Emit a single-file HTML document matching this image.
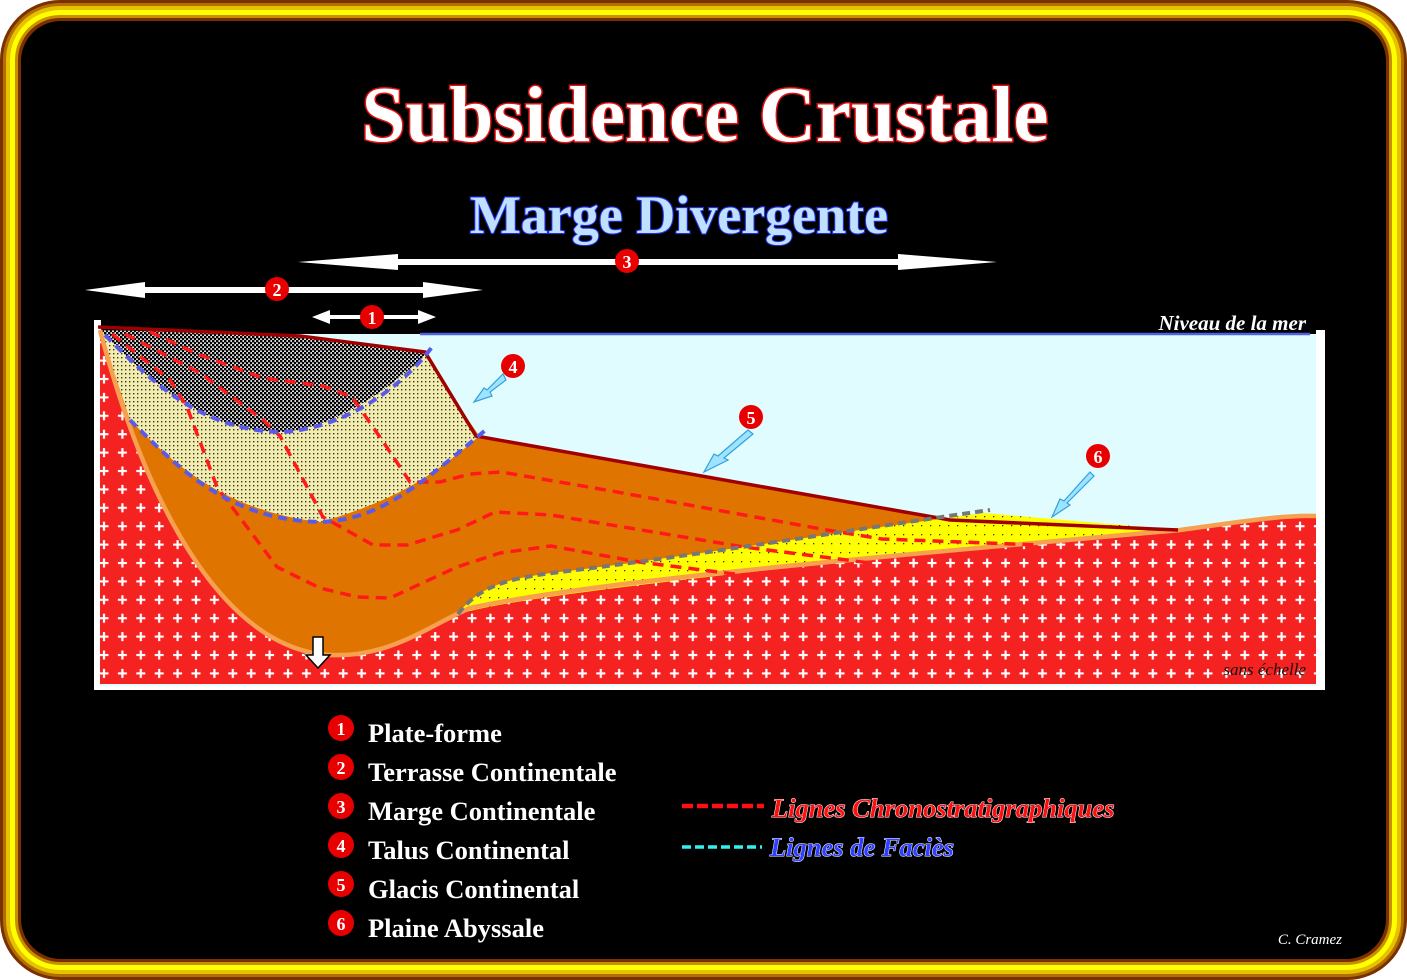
<!DOCTYPE html>
<html><head><meta charset="utf-8"><style>
html,body{margin:0;padding:0;background:#fff;width:1407px;height:980px;overflow:hidden}
</style></head><body>
<svg width="1407" height="980" viewBox="0 0 1407 980" xmlns="http://www.w3.org/2000/svg">
<defs>
<pattern id="plus" x="3" y="2" width="18.4" height="18.4" patternUnits="userSpaceOnUse">
<rect width="18.4" height="18.4" fill="#f52222"/>
<path d="M9 4.5V13.5M4.5 9H13.5" stroke="#fff" stroke-width="2.2"/>
</pattern>
<pattern id="dots" width="4" height="4" patternUnits="userSpaceOnUse">
<rect width="4" height="4" fill="#f4eeae"/><rect x="1" y="1" width="1.4" height="1.4" fill="#333"/>
</pattern>
<pattern id="ddots" width="4" height="4" patternUnits="userSpaceOnUse">
<rect width="4" height="4" fill="#ddd"/><rect x="0" y="0" width="2.4" height="2.4" fill="#000"/><rect x="2" y="2" width="2.4" height="2.4" fill="#000"/>
</pattern>
<pattern id="ydots" width="9" height="9" patternUnits="userSpaceOnUse">
<rect width="9" height="9" fill="#ffff00"/><rect x="3" y="3" width="1.3" height="1.3" fill="#333"/>
</pattern>
</defs>
<!-- frame -->
<rect x="0" y="0" width="1407" height="980" rx="60" fill="#7a3000"/>
<rect x="3" y="3" width="1401" height="974" rx="57" fill="#b07000"/>
<rect x="6" y="6" width="1395" height="968" rx="54" fill="#e8c000"/>
<rect x="10" y="10" width="1387" height="960" rx="50" fill="#ffff00"/>
<rect x="15" y="15" width="1377" height="950" rx="45" fill="#c89000"/>
<rect x="18" y="18" width="1371" height="944" rx="42" fill="#7a3000"/>
<rect x="21" y="21" width="1365" height="938" rx="40" fill="#000"/>

<!-- titles -->
<text x="705" y="141" text-anchor="middle" font-family="Liberation Serif,serif" font-weight="bold" font-size="79" fill="#fff" stroke="#e01010" stroke-width="3" paint-order="stroke">Subsidence Crustale</text>
<text x="679" y="233" text-anchor="middle" font-family="Liberation Serif,serif" font-weight="bold" font-size="54" fill="#bfe0ff" stroke="#2030e0" stroke-width="2.2" paint-order="stroke">Marge Divergente</text>

<!-- arrows -->
<g fill="#fff">
<polygon points="298,262 398,254 398,259 898,259 898,254 997,262 898,270 898,265 398,265 398,270"/>
<polygon points="85,290 145,282 145,287 423,287 423,282 483,290 423,298 423,293 145,293 145,298"/>
<polygon points="312,317 330,310 330,315 418,315 418,310 436,317 418,324 418,319 330,319 330,324"/>
</g>

<!-- diagram -->
<rect x="94" y="320" width="7" height="370" fill="#fff"/>
<rect x="94" y="684" width="1231" height="6" fill="#fff"/>
<rect x="1316" y="330" width="9" height="360" fill="#fff"/>
<rect x="100" y="334" width="1216" height="352" fill="#e0fcff"/>
<line x1="420" y1="334" x2="1310" y2="334" stroke="#5060e0" stroke-width="2.5"/>
<path d="M100,330 C150,520 230,650 330,655 C390,658 430,625 470,608 C600,580 900,555 1180,530 C1240,522 1280,515 1316,516 L1316,684 L100,684 Z" fill="url(#plus)"/>
<path d="M100,330 C150,520 230,650 330,655 C390,658 430,625 470,608 C600,580 900,555 1180,530 L950,520 L480,437 L420,350 Z" fill="#e07400"/>
<path d="M458,614 C480,585 510,578 560,572 C700,555 850,530 985,513 L1178,530 C1000,545 800,565 600,590 C540,598 490,605 458,614 Z" fill="url(#ydots)"/>
<path d="M100,330 L300,336 L425,352 L478,437 C440,470 400,500 320,522 C220,510 170,460 130,420 Z" fill="url(#dots)"/>
<path d="M100,330 L300,336 L428,352 C390,390 330,430 280,432 C200,430 150,380 105,335 Z" fill="url(#ddots)"/>
<path d="M100,330 C150,520 230,650 330,655 C390,658 430,625 470,608 C600,580 900,555 1180,530 C1240,522 1280,515 1316,516" fill="none" stroke="#f6a050" stroke-width="4.5"/>
<path d="M98,327 L300,336 L425,352 L476,436 L950,520 L1178,530" fill="none" stroke="#a00000" stroke-width="3.5"/>
<!-- red chrono lines -->
<g fill="none" stroke="#ff1a1a" stroke-width="3.5" stroke-dasharray="11,7" stroke-linejoin="round">
<path d="M150,332 L200,355 L263,378 L323,386 L352,397 L382,440 L410,482 L440,482 L470,474 L501,472 L606,490 L827,530 L882,539 L1040,545"/>
<path d="M125,334 L200,373 L263,420 L280,436 L323,517 L373,545 L407,545 L457,530 L495,512 L551,515 L744,547 L870,563"/>
<path d="M112,334 L170,380 L187,407 L217,487 L277,567 L320,588 L357,597 L390,598 L457,567 L500,553 L551,546 L639,562 L750,576"/>
</g>
<!-- blue facies lines -->
<g fill="none" stroke="#5a5ae8" stroke-width="4" stroke-dasharray="9,6">
<path d="M105,335 C150,380 200,430 280,432 C340,430 400,390 432,347"/>
<path d="M130,420 C180,470 230,520 320,522 C380,520 420,485 488,428"/>
</g>
<path d="M458,614 C480,585 510,578 560,572 C700,555 850,530 990,510" fill="none" stroke="#777" stroke-width="4" stroke-dasharray="8,5"/>

<!-- callout arrows -->
<g fill="#9fe4ff" stroke="#30a0e0" stroke-width="1.2">
<path d="M503,374 L506,380 L490,392 L492,396 L474,402 L484,388 L487,390 Z"/>
<path d="M748,430 L753,434 L724,458 L728,460 L704,472 L714,454 L718,456 Z"/>
<path d="M1090,472 L1094,476 L1067,503 L1070,505 L1052,517 L1060,499 L1064,501 Z"/>
</g>

<g font-family="Liberation Serif,serif" font-weight="bold" font-size="18" fill="#fff" text-anchor="middle">
<circle cx="627" cy="261" r="12" fill="#e80000"/><text x="627" y="268">3</text>
<circle cx="277" cy="289" r="12" fill="#e80000"/><text x="277" y="296">2</text>
<circle cx="372" cy="317" r="12" fill="#e80000"/><text x="372" y="324">1</text>
<circle cx="513" cy="366" r="12" fill="#e80000"/><text x="513" y="373">4</text>
<circle cx="751" cy="417" r="12" fill="#e80000"/><text x="751" y="424">5</text>
<circle cx="1098" cy="456" r="12" fill="#e80000"/><text x="1098" y="463">6</text>
</g>
<path d="M313,637 H323 V655 H330 L318,668 L306,655 H313 Z" fill="#fff" stroke="#000" stroke-width="1.5"/>

<text x="1306" y="330" text-anchor="end" font-family="Liberation Serif,serif" font-style="italic" font-weight="bold" font-size="21" fill="#fff">Niveau de la mer</text>
<text x="1306" y="675" text-anchor="end" font-family="Liberation Serif,serif" font-style="italic" font-size="17" fill="#111">sans échelle</text>

<!-- legend -->
<g font-family="Liberation Serif,serif" font-weight="bold">
<g fill="#e80000"><circle cx="341" cy="728" r="13"/><circle cx="341" cy="767" r="13"/><circle cx="341" cy="806" r="13"/><circle cx="341" cy="845" r="13"/><circle cx="341" cy="884" r="13"/><circle cx="341" cy="923" r="13"/></g>
<g fill="#fff" font-size="18" text-anchor="middle"><text x="341" y="735">1</text><text x="341" y="774">2</text><text x="341" y="813">3</text><text x="341" y="852">4</text><text x="341" y="891">5</text><text x="341" y="930">6</text></g>
<g fill="#fff" font-size="26.5"><text x="368" y="742">Plate-forme</text><text x="368" y="781">Terrasse Continentale</text><text x="368" y="820">Marge Continentale</text><text x="368" y="859">Talus Continental</text><text x="368" y="898">Glacis Continental</text><text x="368" y="937">Plaine Abyssale</text></g>
</g>
<line x1="682" y1="806" x2="764" y2="806" stroke="#ff1010" stroke-width="4.5" stroke-dasharray="11,4"/>
<line x1="682" y1="847" x2="762" y2="847" stroke="#30f0f0" stroke-width="3.5" stroke-dasharray="9,4"/>
<text x="772" y="817" font-family="Liberation Serif,serif" font-style="italic" font-weight="bold" font-size="26.5" fill="#ff1010" stroke="#fff" stroke-width="1" paint-order="stroke">Lignes Chronostratigraphiques</text>
<text x="770" y="856" font-family="Liberation Serif,serif" font-style="italic" font-weight="bold" font-size="26.5" fill="#3040ff" stroke="#fff" stroke-width="1" paint-order="stroke">Lignes de Faciès</text>
<text x="1342" y="944" text-anchor="end" font-family="Liberation Serif,serif" font-style="italic" font-size="15" fill="#fff">C. Cramez</text>
</svg>
</body></html>
